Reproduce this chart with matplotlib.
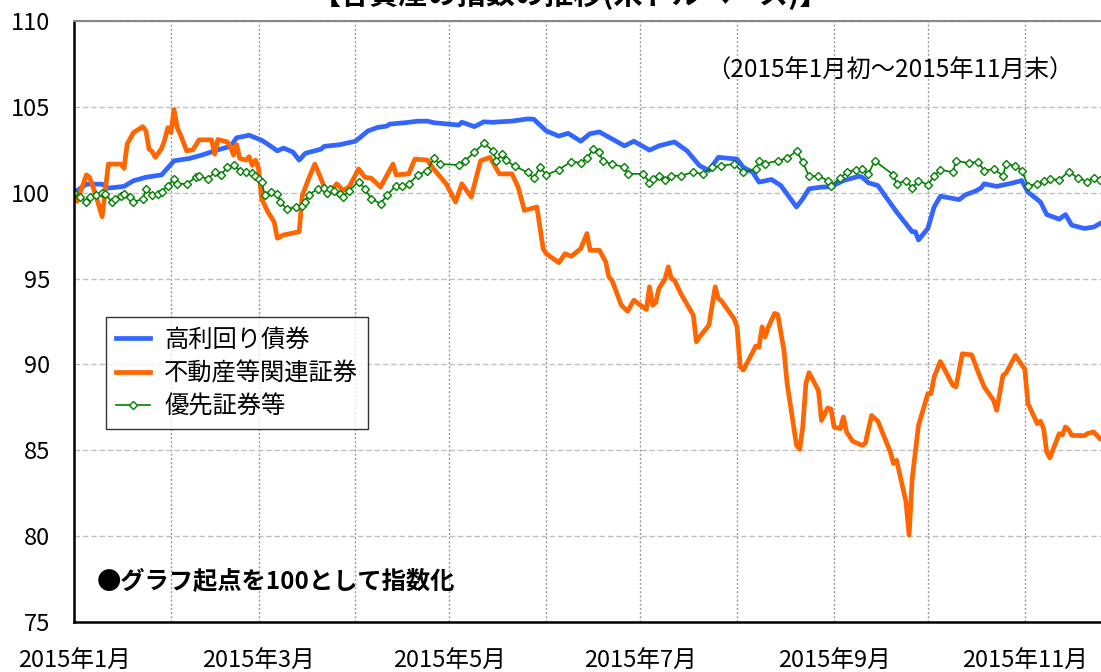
import numpy as np
import pandas as pd
import matplotlib
matplotlib.use('Agg')
import matplotlib.pyplot as plt

plt.rcParams['font.family'] = ['Noto Sans CJK JP', 'DejaVu Sans']

start = pd.Timestamp('2015-01-01')

# days since 2015-01-01 and index values (start = 100)
hy_days = [0, 4, 9, 11, 16, 19, 23, 28, 32, 37, 41, 46, 50, 52, 56, 58, 60, 63, 65, 67,
           70, 72, 74, 79, 80, 85, 90, 94, 97, 100, 101, 106, 110, 113, 115, 123, 124, 128,
           131, 134, 136, 140, 145, 147, 151, 155, 158, 162, 165, 168, 176, 179, 184, 187,
           192, 196, 200, 203, 206, 212, 214, 217, 219, 223, 226, 231, 233, 235, 239, 242,
           246, 251, 252, 254, 257, 263, 268, 269, 270, 273, 275, 277, 283, 285, 288, 290,
           291, 295, 297, 300, 303, 305, 309, 311, 315, 317, 319, 323, 326, 328]
hy_vals = [100.0, 100.5, 100.5, 100.27, 100.37, 100.7, 100.9, 101.04, 101.86, 102.0, 102.2,
           102.5, 102.7, 103.2, 103.35, 103.2, 103.06, 102.7, 102.44, 102.6, 102.37, 101.9,
           102.3, 102.54, 102.7, 102.8, 103.0, 103.6, 103.8, 103.88, 104.0, 104.08, 104.17,
           104.17, 104.08, 103.94, 104.11, 103.85, 104.13, 104.1, 104.13, 104.17, 104.3,
           104.28, 103.6, 103.3, 103.46, 103.0, 103.44, 103.54, 102.73, 103.0, 102.48,
           102.73, 102.96, 102.44, 101.58, 101.29, 102.06, 101.96, 101.48, 101.19, 100.62,
           100.77, 100.42, 99.17, 99.65, 100.23, 100.33, 100.35, 100.71, 100.96, 100.9,
           100.58, 100.42, 98.88, 97.73, 97.73, 97.25, 97.92, 99.17, 99.8, 99.6, 99.88,
           100.08, 100.27, 100.52, 100.37, 100.45, 100.56, 100.71, 100.04, 99.46, 98.73,
           98.46, 98.73, 98.11, 97.92, 98.0, 98.2]

re_days = [0, 1, 4, 5, 7, 9, 11, 15, 16, 17, 19, 22, 23, 24, 25, 26, 28, 29, 30, 31, 32, 33,
           34, 36, 38, 40, 44, 45, 46, 49, 50, 51, 52, 53, 55, 56, 57, 58, 59, 60, 62, 64,
           65, 67, 72, 73, 75, 77, 79, 81, 84, 86, 88, 91, 93, 95, 98, 102, 103, 107, 109,
           113, 115, 119, 122, 124, 127, 130, 133, 136, 140, 142, 143, 144, 148, 150, 151,
           155, 157, 159, 162, 164, 165, 168, 170, 171, 172, 175, 177, 179, 183, 184, 185,
           186, 187, 189, 190, 191, 192, 194, 198, 199, 200, 203, 205, 206, 207, 211, 212,
           213, 214, 218, 219, 220, 221, 222, 224, 225, 227, 228, 231, 232, 233, 234, 235,
           238, 239, 241, 242, 243, 245, 246, 247, 249, 252, 253, 255, 257, 261, 262, 263,
           266, 267, 268, 270, 273, 274, 275, 277, 281, 282, 284, 287, 289, 291, 294, 295,
           297, 298, 301, 304, 305, 308, 309, 310, 311, 312, 315, 316, 317, 318, 319, 323,
           324, 326, 328]
re_vals = [100.0, 99.5, 101.04, 100.9, 99.85, 98.6, 101.67, 101.67, 101.42, 102.83, 103.5,
           103.85, 103.6, 102.54, 102.4, 102.06, 102.58, 103.08, 103.79, 103.5, 104.85,
           103.79, 103.4, 102.44, 102.5, 103.08, 103.08, 102.25, 103.1, 102.96, 102.7,
           102.2, 102.8, 102.0, 101.9, 102.1, 101.6, 101.9, 101.42, 99.65, 98.88, 98.3,
           97.35, 97.54, 97.73, 99.85, 100.8, 101.67, 100.8, 99.85, 100.52, 100.13, 100.35,
           101.38, 100.9, 100.85, 100.33, 101.67, 101.04, 101.1, 101.96, 101.9, 101.38,
           100.52, 99.46, 100.52, 99.75, 101.86, 102.06, 101.1, 101.1, 100.33, 99.65, 98.97,
           99.17, 96.74, 96.45, 95.93, 96.45, 96.3, 96.74, 97.62, 96.65, 96.65, 95.97, 95.1,
           94.9, 93.45, 93.1, 93.74, 93.2, 94.52, 93.45, 93.6, 94.42, 95.0, 95.68, 95.0,
           94.9, 94.13, 92.87, 91.32, 91.6, 92.29, 94.52, 93.84, 93.7, 92.67, 92.2, 89.87,
           89.67, 91.07, 91.0, 92.19, 91.61, 92.19, 92.97, 92.9, 90.8, 88.9, 85.29, 85.06,
           86.36, 88.88, 89.52, 88.49, 86.74, 87.47, 87.4, 86.36, 86.26, 86.94, 86.07,
           85.52, 85.29, 85.4, 87.03, 86.7, 84.9, 84.23, 84.42, 82.0, 80.06, 83.36, 86.45,
           88.3, 88.3, 89.27, 90.17, 88.78, 88.7, 90.62, 90.56, 89.59, 88.69, 87.91, 87.33,
           89.36, 89.5, 90.52, 89.71, 87.72, 86.55, 86.7, 86.26, 84.9, 84.56, 85.97, 85.9,
           86.36, 86.2, 85.87, 85.85, 85.97, 86.07, 85.68]

pf_days = [0, 2, 4, 5, 7, 9, 10, 12, 13, 15, 16, 18, 19, 22, 23, 25, 27, 28, 30, 32, 33, 36,
           39, 40, 43, 45, 47, 49, 51, 53, 55, 57, 58, 59, 60, 61, 63, 65, 66, 68, 71, 73,
           74, 75, 78, 80, 81, 82, 83, 85, 86, 88, 91, 93, 95, 98, 100, 103, 105, 107, 110,
           113, 115, 117, 123, 125, 128, 131, 134, 135, 137, 138, 141, 145, 147, 149, 151,
           155, 159, 162, 164, 166, 168, 169, 172, 176, 177, 182, 184, 185, 187, 189, 191,
           194, 198, 201, 204, 207, 211, 214, 218, 219, 221, 225, 228, 231, 233, 235, 238,
           241, 242, 245, 247, 250, 252, 254, 256, 262, 263, 266, 268, 270, 273, 275, 277,
           281, 282, 286, 289, 291, 294, 297, 298, 301, 303, 305, 308, 310, 312, 315, 318,
           321, 324, 326, 328]
pf_vals = [100.0, 99.75, 99.46, 99.75, 99.88, 100.0, 99.95, 99.46, 99.65, 99.8, 99.94, 99.75,
           99.46, 99.65, 100.23, 99.85, 99.9, 100.04, 100.42, 100.81, 100.52, 100.52, 100.9,
           100.95, 100.81, 101.23, 101.04, 101.48, 101.62, 101.29, 101.2, 101.15, 100.96,
           100.8, 100.62, 99.88, 100.04, 99.9, 99.46, 99.04, 99.17, 99.2, 99.46, 99.88,
           100.23, 100.25, 100.0, 100.2, 100.1, 99.95, 99.75, 100.13, 100.65, 100.23, 99.65,
           99.37, 99.85, 100.42, 100.4, 100.52, 101.04, 101.29, 102.0, 101.67, 101.62,
           101.86, 102.35, 102.88, 102.44, 101.86, 102.25, 101.9, 101.54, 101.19, 100.85,
           101.48, 101.04, 101.35, 101.81, 101.75, 102.0, 102.54, 102.35, 101.86, 101.67,
           101.48, 101.1, 101.1, 100.58, 100.8, 100.96, 100.77, 100.98, 101.0, 101.19, 101.1,
           101.48, 101.58, 101.67, 101.19, 101.38, 101.86, 101.7, 101.86, 102.0, 102.44,
           101.77, 100.96, 100.98, 100.71, 100.42, 100.85, 101.19, 101.35, 101.38, 101.1,
           101.86, 101.04, 100.52, 100.71, 100.27, 100.71, 100.46, 100.96, 101.35, 101.19,
           101.86, 101.73, 101.81, 101.29, 101.38, 101.0, 101.67, 101.58, 101.29, 100.42,
           100.5, 100.71, 100.81, 100.75, 101.23, 100.85, 100.65, 100.85, 100.77]

series_names = ['高利回り債券', '不動産等関連証券', '優先証券等']
month_labels = ['2015年1月', '', '2015年3月', '', '2015年5月', '', '2015年7月', '',
                '2015年9月', '', '2015年11月']
y_ticks = [75, 80, 85, 90, 95, 100, 105, 110]


def to_dates(days):
    return start + pd.to_timedelta(days, unit='D')


fig = plt.figure(figsize=(11.01, 6.72), dpi=100)
ax = fig.add_axes([0.0672, 0.0744, 0.946, 0.8943])

ax.plot(to_dates(hy_days), hy_vals, color='#3366ff', lw=3.4, label=series_names[0],
        solid_joinstyle='round')
ax.plot(to_dates(re_days), re_vals, color='#ff6600', lw=3.4, label=series_names[1],
        solid_joinstyle='round')
ax.plot(to_dates(pf_days), pf_vals, color='#008000', lw=1.2, marker='D', ms=4.5,
        mfc='white', mec='#008000', mew=1.0, label=series_names[2])

ax.set_ylim(75, 110)
ax.set_yticks(y_ticks)
ax.set_xlim(start, pd.Timestamp('2015-11-30'))
month_ticks = pd.date_range('2015-01-01', '2015-11-01', freq='MS')
ax.set_xticks(month_ticks)
ax.set_xticklabels(month_labels)
ax.tick_params(axis='both', length=0, labelsize=17)
ax.tick_params(axis='y', pad=17)
ax.tick_params(axis='x', pad=20)

ax.yaxis.grid(True, ls=(0, (4, 2)), color='#c0c0c0', lw=1)
ax.xaxis.grid(True, ls=(0, (1.5, 1.5)), color='#999999', lw=1)
ax.set_axisbelow(True)

for s in ['left', 'bottom']:
    ax.spines[s].set_color('black')
    ax.spines[s].set_linewidth(1.8)
ax.spines['top'].set_color('#888888')
ax.spines['top'].set_linewidth(1.5)
ax.spines['right'].set_visible(False)

leg = ax.legend(loc='upper left', bbox_to_anchor=(0.0307, 0.5075), borderaxespad=0,
                fontsize=17.5, frameon=True, fancybox=False, edgecolor='black',
                handlelength=1.4, labelspacing=0.3, borderpad=0.4, handletextpad=0.6)
leg.get_frame().set_linewidth(1.0)

ax.text(0.607, 0.918, '（2015年1月初～2015年11月末）', transform=ax.transAxes,
        fontsize=17.5, va='center', ha='left')
ax.text(0.022, 0.068, '●グラフ起点を100として指数化', transform=ax.transAxes,
        fontsize=17.5, fontweight='bold', va='center', ha='left')

fig.text(0.518, 1.008, '【各資産の指数の推移(米ドルベース)】', fontsize=21,
         fontweight='bold', ha='center', va='center')

fig.savefig('out.png', dpi=100)
